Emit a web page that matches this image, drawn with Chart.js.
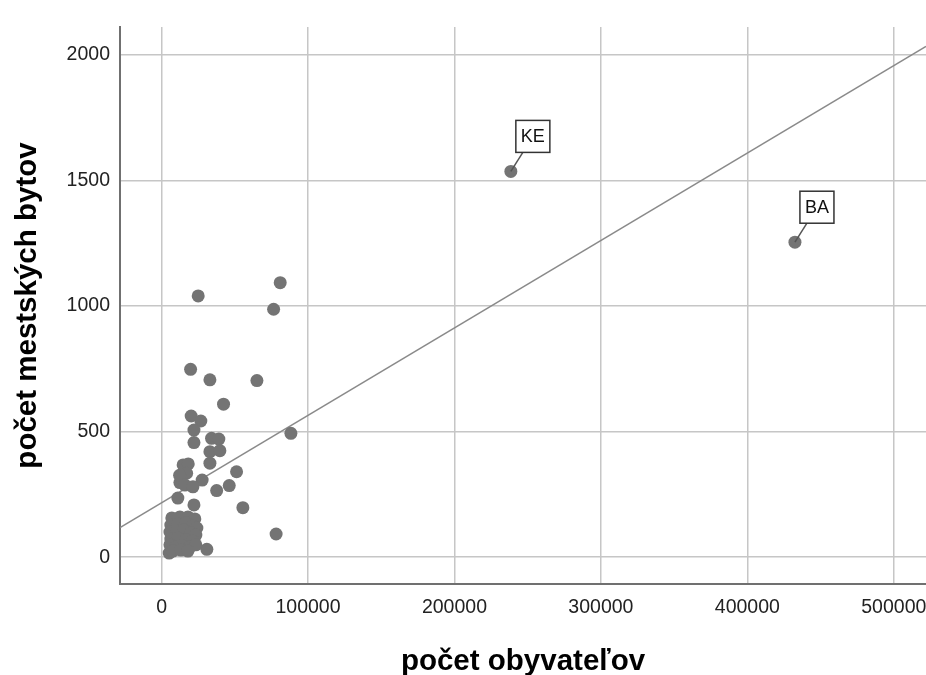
<!DOCTYPE html>
<html>
<head>
<meta charset="utf-8">
<script src="https://cdn.jsdelivr.net/npm/chart.js@4"></script>
<style>
  html, body { margin: 0; padding: 0; background: #fff; overflow: hidden; }
  #chart { display: block; }
</style>
</head>
<body>
<canvas id="chart" width="926" height="675"></canvas>
<script>
// pocet obyvatelov (x) vs pocet mestskych bytov (y), one entry per town
let population = [
  25000, 81000, 76500, 19800, 33000, 65100, 42300, 20200, 26800, 22100,
  22100, 34100, 39100, 88300, 33000, 39800, 33000, 14700, 18200, 17100,
  12500, 27700, 51200, 46200, 37600, 11100, 22100, 55500, 78200, 30900,
  5200, 12300, 15900, 21400,
  7000, 12500, 18000, 22700,
  6300, 11100, 16600, 21400, 24100,
  5700, 10400, 15200, 20000, 23400,
  6300, 11100, 16600, 21400,
  5700, 9800, 14500, 19300, 23400,
  7700, 13200, 18000,
  238500, 432500
];
let flats = [
  1040, 1093, 987, 748, 706, 703, 609, 562, 542, 506,
  456, 473, 470, 493, 420, 424, 374, 367, 371, 334,
  297, 307, 340, 285, 265, 235, 208, 197, 92, 31,
  16, 326, 287, 280,
  156, 160, 160, 152,
  128, 132, 136, 124, 116,
  100, 104, 108, 96, 88,
  72, 76, 68, 64,
  49, 40, 44, 40, 49,
  24, 28, 24,
  1536, 1254
];
// towns that carry a label in the chart
let labelledTowns = ["KE", "BA"];
let labelledPopulation = [238500, 432500];
let labelledFlats = [1536, 1254];

let xTicks = [0, 100000, 200000, 300000, 400000, 500000];
let yTicks = [0, 500, 1000, 1500, 2000];
let xMin = -28400, xMax = 522000;
let yMin = -107, yMax = 2111;

// linear fit
let fitIntercept = 216.6;
let fitSlope = 0.003481;

let points = population.map(function(p, i) { return { x: p, y: flats[i] }; });
let fitLine = [
  { x: xMin, y: fitIntercept + fitSlope * xMin },
  { x: xMax, y: fitIntercept + fitSlope * xMax }
];

let fontFamily = "'Liberation Sans', Arial, sans-serif";

let calloutPlugin = {
  id: "callouts",
  afterDatasetsDraw: function(chart) {
    let ctx = chart.ctx;
    let xs = chart.scales.x, ys = chart.scales.y;
    ctx.save();
    ctx.font = "18px " + fontFamily;
    for (let i = 0; i < labelledTowns.length; i++) {
      let px = xs.getPixelForValue(labelledPopulation[i]);
      let py = ys.getPixelForValue(labelledFlats[i]);
      let w = ctx.measureText(labelledTowns[i]).width + 10;
      let h = 32;
      let bx = px + 5, by = py - 19 - h;
      ctx.strokeStyle = "#555";
      ctx.lineWidth = 1.5;
      ctx.beginPath();
      ctx.moveTo(px, py);
      ctx.lineTo(px + 12, py - 19);
      ctx.stroke();
      ctx.fillStyle = "#fff";
      ctx.fillRect(bx, by, w, h);
      ctx.strokeStyle = "#333";
      ctx.strokeRect(bx, by, w, h);
      ctx.fillStyle = "#111";
      ctx.textAlign = "center";
      ctx.textBaseline = "middle";
      ctx.fillText(labelledTowns[i], bx + w / 2, by + h / 2 + 1);
    }
    ctx.restore();
  }
};

let ctxEl = document.getElementById("chart").getContext("2d");
let myChart = new Chart(ctxEl, {
  type: "scatter",
  data: {
    datasets: [
      {
        type: "line",
        label: "fit",
        data: fitLine,
        borderColor: "#8a8a8a",
        borderWidth: 1.5,
        pointRadius: 0,
        fill: false,
        order: 2
      },
      {
        label: "towns",
        data: points,
        backgroundColor: "#747474",
        borderColor: "#747474",
        borderWidth: 0,
        pointRadius: 6.5,
        pointHoverRadius: 6.5,
        order: 1
      }
    ]
  },
  options: {
    responsive: false,
    devicePixelRatio: 1,
    animation: false,
    layout: { autoPadding: false, padding: { top: 27, left: 0, right: 0, bottom: 0 } },
    plugins: {
      legend: { display: false },
      tooltip: { enabled: false }
    },
    scales: {
      x: {
        type: "linear",
        position: "bottom",
        min: xMin,
        max: xMax,
        afterBuildTicks: function(s) { s.ticks = xTicks.map(function(v) { return { value: v }; }); },
        afterFit: function(s) { s.height = 91; s.paddingLeft = 0; s.paddingRight = 0; },
        ticks: {
          font: { family: fontFamily, size: 19.5 },
          color: "#222",
          padding: 12,
          maxRotation: 0,
          autoSkip: false,
          callback: function(v) { return String(v); }
        },
        grid: { color: "#c6c6c6", lineWidth: 1.5, drawTicks: false },
        border: { color: "#707070", width: 2 },
        title: {
          display: true,
          text: "počet obyvateľov",
          color: "#000",
          font: { family: fontFamily, size: 29.5, weight: "bold", lineHeight: 0.9 },
          padding: { top: 0, bottom: 0 }
        }
      },
      y: {
        type: "linear",
        min: yMin,
        max: yMax,
        afterBuildTicks: function(s) { s.ticks = yTicks.map(function(v) { return { value: v }; }); },
        afterFit: function(s) { s.width = 120; },
        ticks: {
          font: { family: fontFamily, size: 19.5 },
          color: "#222",
          padding: 10,
          callback: function(v) { return String(v); }
        },
        grid: { color: "#c6c6c6", lineWidth: 1.5, drawTicks: false },
        border: { color: "#707070", width: 2 },
        title: {
          display: true,
          text: "počet mestských bytov",
          color: "#000",
          font: { family: fontFamily, size: 29.5, weight: "bold", lineHeight: 0.9 },
          padding: { top: 15, bottom: 0 }
        }
      }
    }
  },
  plugins: [calloutPlugin]
});
</script>
</body>
</html>
